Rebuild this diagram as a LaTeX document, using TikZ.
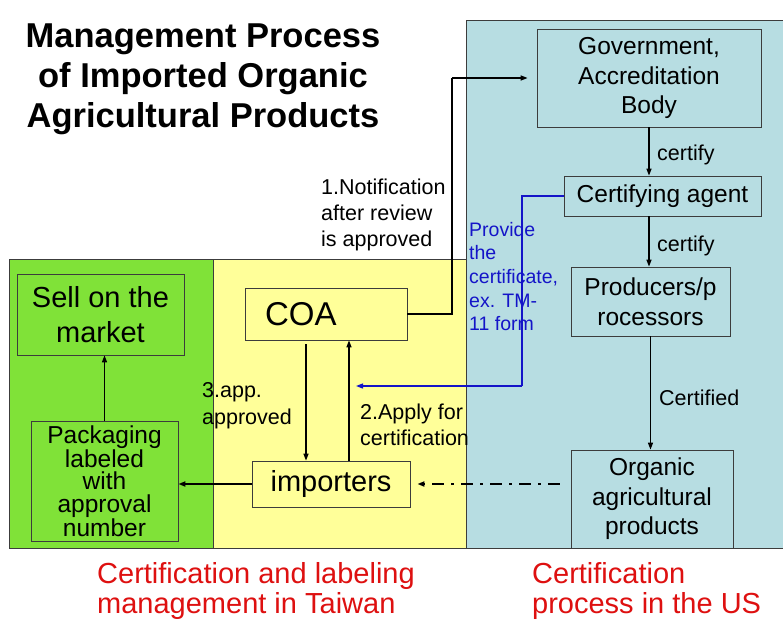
\documentclass[tikz,border=0pt]{standalone}
\usepackage{fontspec}
\setmainfont{Liberation Sans}
\usetikzlibrary{arrows.meta}
\definecolor{usblue}{RGB}{183,221,226}
\definecolor{twyellow}{RGB}{255,255,153}
\definecolor{mkgreen}{RGB}{128,226,56}
\definecolor{linegray}{RGB}{60,60,60}
\definecolor{noteblue}{RGB}{20,20,200}
\definecolor{capred}{RGB}{222,16,16}
\newcommand{\fs}[2]{\fontsize{#1}{#2}\selectfont}
\tikzset{
  panel/.style={draw=linegray, line width=0.8pt},
  box/.style={draw=linegray, line width=0.8pt, inner sep=0pt, align=center},
  arr/.style={line width=1.4pt, -{Triangle[length=7pt,width=5pt]}},
  lbl/.style={anchor=north west, inner sep=0pt, align=left},
}
\begin{document}
\begin{tikzpicture}[x=1pt,y=-1pt]
\useasboundingbox[fill=white] (0,0) rectangle (783,621);
\filldraw[panel, fill=usblue] (466,20) rectangle (783,548);
\filldraw[panel, fill=twyellow] (213,259) rectangle (466,548);
\filldraw[panel, fill=mkgreen] (9,259) rectangle (213,548);

\node[font=\bfseries\fs{34.5}{40}, align=center, anchor=north, inner sep=0pt] (title) at (203,24) {Management Process\\of Imported Organic\\Agricultural Products};

\node[box, minimum width=224pt, minimum height=98pt, font=\fs{24.5}{29.5}] (gov) at (649,78) {Government,\\Accreditation\\Body};
\node[box, minimum width=197pt, minimum height=40pt, font=\fs{24.5}{29.5}] (agent) at (662.5,196) {Certifying agent};
\node[box, minimum width=159pt, minimum height=69pt, font=\fs{24.5}{29.5}] (prod) at (650.5,301.5) {Producers/p\\rocessors};
\node[box, minimum width=162pt, minimum height=98pt, font=\fs{24.5}{29.5}] (org) at (652,499) {Organic\\agricultural\\products};

\node[box, minimum width=162pt, minimum height=52pt, text width=122pt, inner xsep=20pt, align=left, font=\fs{33}{38}] (coa) at (326,314) {COA};
\node[box, minimum width=158pt, minimum height=46pt, font=\fs{29}{34}] (imp) at (331,484) {importers};
\node[box, minimum width=167pt, minimum height=81pt, font=\fs{29}{35}] (sell) at (100.5,314.5) {Sell on the\\market};
\node[box, minimum width=147pt, minimum height=120pt, font=\fs{24.5}{22.5}] (pack) at (104.5,481) {Packaging\\labeled\\with\\approval\\number};

\node[lbl, font=\fs{21.5}{26}] (notify) at (321,179) {1.Notification\\after review\\is approved};
\node[lbl, font=\fs{19.5}{23.6}, text=noteblue] (provide) at (469,222) {Provide\\the\\certificate,\\ex. TM-\\11 form};
\node[lbl, font=\fs{21.5}{27}] (approved) at (202,382) {3.app.\\approved};
\node[lbl, font=\fs{21.5}{25.5}] (apply) at (360,404) {2.Apply for\\certification};
\node[lbl, font=\fs{21.5}{26}] (certa) at (657,145) {certify};
\node[lbl, font=\fs{21.5}{26}] (certb) at (657,236) {certify};
\node[lbl, font=\fs{21.5}{26}] (certc) at (659,390) {Certified};

\node[lbl, font=\fs{29}{30}, text=capred] (twcap) at (97,562) {Certification and labeling\\management in Taiwan};
\node[lbl, font=\fs{29}{30}, text=capred] (uscap) at (532,562) {Certification\\process in the US};

\coordinate (up) at (452,78);
\coordinate (bturn) at (522,386);
\coordinate (bend) at (356,386);

\draw[arr] (gov.south) -- (gov.south |- agent.north);
\draw[arr] (gov.south |- agent.south) -- (gov.south |- prod.north);
\draw[arr] (prod.south) -- (prod.south |- org.north);
\draw[line width=1.4pt] (coa.east) -| (up);
\draw[arr, shorten >=9pt] (up) -- (gov.west);
\draw[line width=1.2pt, noteblue] (agent.west) -| (bturn);
\draw[arr, line width=1.2pt, noteblue] (bturn) -- (bend);
\draw[arr, shorten <=4pt] ([xshift=-20pt]coa.south) -- ([xshift=-20pt]coa.south |- imp.north);
\draw[arr] ([xshift=23pt]coa.south |- imp.north) -- ([xshift=23pt]coa.south);
\draw[arr, line width=1.8pt, dash pattern=on 12pt off 7pt on 3pt off 7pt, shorten <=11pt, shorten >=7pt] (org.west |- imp.east) -- (imp.east);
\draw[arr, line width=1.8pt] (imp.west) -- (imp.west -| pack.east);
\draw[arr] (pack.north) -- (pack.north |- sell.south);
\end{tikzpicture}
\end{document}
